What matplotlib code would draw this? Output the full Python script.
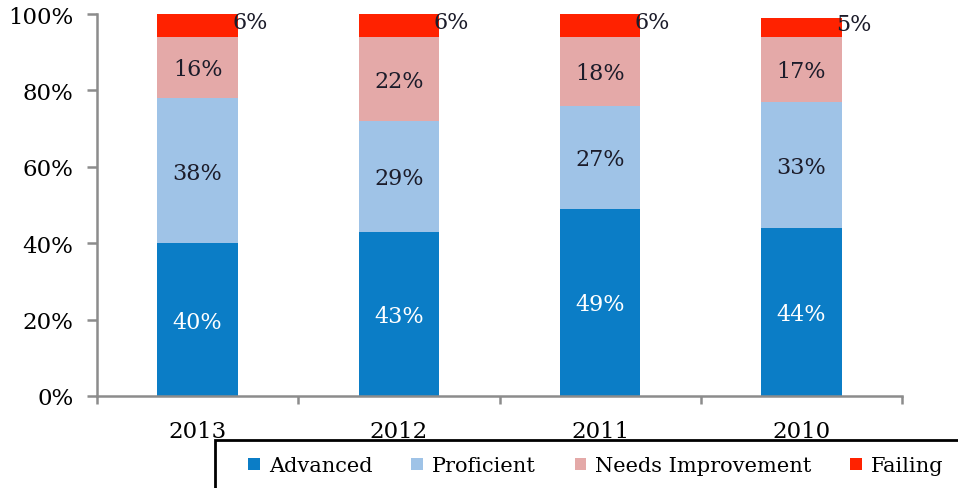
import numpy as np
import matplotlib
matplotlib.use('Agg')
import matplotlib.pyplot as plt
from matplotlib.patches import Rectangle
from matplotlib.ticker import FixedLocator, FuncFormatter

plt.rcParams['font.family'] = ['DejaVu Serif']

years = ['2013', '2012', '2011', '2010']
levels = ['Advanced', 'Proficient', 'Needs Improvement', 'Failing']
advanced = [40, 43, 49, 44]
proficient = [38, 29, 27, 33]
needs_improvement = [16, 22, 18, 17]
failing = [6, 6, 6, 5]

colors = ['#0b7dc6', '#9fc3e7', '#e4a9a8', '#ff2200']
label_colors = ['white', '#1c1c2a', '#1c1c2a', '#1c1c2a']

fig = plt.figure(figsize=(9.58, 4.89), dpi=100)
fig.set_facecolor('w')
ax = fig.add_axes([97/958., 92/489., 805/958., 382/489.])

x = np.arange(len(years))
width = 0.4
bottom = np.zeros(len(years))
series = [advanced, proficient, needs_improvement, failing]
bars = []
for vals, col, lcol, name in zip(series, colors, label_colors, levels):
    vals = np.array(vals, dtype=float)
    b = ax.bar(x, vals, width, bottom=bottom, color=col, label=name, zorder=2)
    bars.append(b)
    for xi, v, b0 in zip(x, vals, bottom):
        if name == 'Failing':
            ax.text(xi + width/2 + 0.06, b0 + v/2 + 0.8, '%d%%' % v,
                    ha='center', va='center', color=lcol, fontsize=16)
        else:
            ax.text(xi, b0 + v/2 - 0.5, '%d%%' % v, ha='center', va='center',
                    color=lcol, fontsize=16)
    bottom += vals

ax.set_xlim(-0.5, 3.5)
ax.set_ylim(0, 100)
ax.set_yticks(np.arange(0, 101, 20))
ax.yaxis.set_major_formatter(FuncFormatter(lambda v, p: '%d%%' % v))
ax.set_xticks(x)
ax.set_xticklabels(years)
ax.xaxis.set_minor_locator(FixedLocator(np.arange(-0.5, 3.6, 1.0)))

for s in ['top', 'right']:
    ax.spines[s].set_visible(False)
for s in ['left', 'bottom']:
    ax.spines[s].set_color('#8c8c8c')
    ax.spines[s].set_linewidth(1.8)

ax.tick_params(axis='y', direction='out', length=7, width=1.8, color='#8c8c8c',
               labelsize=16.5, pad=10)
ax.tick_params(axis='x', which='major', length=0, labelsize=16.5, pad=17)
ax.tick_params(axis='x', which='minor', direction='out', length=6, width=1.8,
               color='#8c8c8c')

# legend box runs off the right and bottom edges
fig.patches.append(Rectangle((215/958., -0.05), 0.8, (489 - 441)/489. + 0.05,
                             transform=fig.transFigure, facecolor='none',
                             edgecolor='black', linewidth=2, zorder=5,
                             clip_on=False))
fig.legend(handles=bars, labels=levels, loc='center left', ncol=4,
           bbox_to_anchor=(238/958., 22/489.), frameon=False, fontsize=15,
           handlelength=0.55, handleheight=0.55, handletextpad=0.45,
           columnspacing=1.85, borderpad=0)

fig.savefig('out.png', dpi=100, facecolor='w')
